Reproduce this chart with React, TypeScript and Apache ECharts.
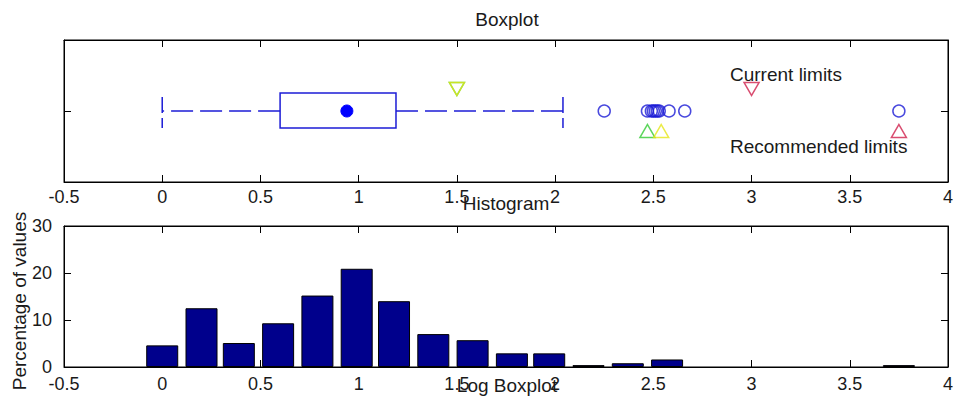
import React, { useEffect, useRef } from 'react';
import * as echarts from 'echarts';

// Boxplot statistics: lower whisker, q1, mean, q3, upper whisker
const boxStats = [0, 0.6, 0.94, 1.19, 2.04];
const outliers = [2.25, 2.47, 2.49, 2.5, 2.51, 2.52, 2.53, 2.58, 2.66, 3.75];
// limit markers (green, yellow, red)
const currentLimits = [1.5, 1.5, 3.0];
const recommendedLimits = [2.47, 2.54, 3.75];
const limitColors = ['#33cc33', '#e6e619', '#d0204c'];
// histogram
const binCenters = [0, 0.2, 0.39, 0.59, 0.79, 0.99, 1.18, 1.38, 1.58, 1.78, 1.97, 2.17, 2.37, 2.57, 2.76, 2.96, 3.16, 3.36, 3.55, 3.75];
const binPercents = [4.6, 12.5, 5.1, 9.3, 15.2, 20.9, 14.0, 7.0, 5.7, 2.9, 2.9, 0.4, 0.8, 1.6, 0, 0, 0, 0, 0, 0.4];

const FONT = '"Liberation Sans", Arial, sans-serif';
const TXT = '#1a1a1a';
const BLUE = '#1c1cd6';

export default function App() {
  const ref = useRef<HTMLDivElement>(null);
  useEffect(() => {
    document.body.style.margin = '0';
    if (!ref.current) return;
    const chart = echarts.init(ref.current, undefined, { renderer: 'svg' });

    const xCommon = (grid: number, pos: 'top' | 'bottom', showLabel: boolean, margin: number) => ({
      type: 'value',
      gridIndex: grid,
      position: pos,
      min: -0.5,
      max: 4,
      interval: 0.5,
      axisLine: { show: true, onZero: false, lineStyle: { color: '#000', width: 1 } },
      axisTick: { show: true, inside: true, length: 7, lineStyle: { color: '#000', width: 1 } },
      axisLabel: { show: showLabel, fontSize: 18, fontFamily: FONT, color: TXT, margin },
      splitLine: { show: false },
    });
    const yCommon = (grid: number, pos: 'left' | 'right', min: number, max: number, interval: number, showLabel: boolean) => ({
      type: 'value',
      gridIndex: grid,
      position: pos,
      min,
      max,
      interval,
      axisLine: { show: true, onZero: false, lineStyle: { color: '#000', width: 1 } },
      axisTick: { show: true, inside: true, length: 7, lineStyle: { color: '#000', width: 1 } },
      axisLabel: { show: showLabel, fontSize: 18, fontFamily: FONT, color: TXT, margin: 12 },
      splitLine: { show: false },
    });

    const text = (t: string, x: number, y: number, align: string, rotation = 0) => ({
      type: 'text',
      x,
      y,
      rotation,
      style: { text: t, fontSize: 19, fontFamily: FONT, fill: TXT, align, verticalAlign: 'middle' },
    });

    const option: any = {
      animation: false,
      grid: [
        { left: 64, top: 40, width: 888, height: 142, show: true, borderColor: '#000', borderWidth: 1, backgroundColor: '#fff' },
        { left: 64, top: 226, width: 888, height: 141, show: true, borderColor: '#000', borderWidth: 1, backgroundColor: '#fff' },
      ],
      xAxis: [
        xCommon(0, 'bottom', true, 6),
        xCommon(0, 'top', false, 6),
        xCommon(1, 'bottom', true, 8),
        xCommon(1, 'top', false, 8),
      ],
      yAxis: [
        yCommon(0, 'left', 0, 2, 1, false),
        yCommon(0, 'right', 0, 2, 1, false),
        yCommon(1, 'left', 0, 30, 10, true),
        yCommon(1, 'right', 0, 30, 10, false),
      ],
      graphic: [
        text('Boxplot', 507, 19, 'center'),
        text('Current limits', 730, 74, 'left'),
        text('Recommended limits', 730, 146, 'left'),
        text('Histogram', 506, 203, 'center'),
        text('Log Boxplot', 507, 385, 'center'),
        text('Percentage of values', 19, 301, 'center', Math.PI / 2),
      ],
      series: [
        {
          type: 'custom',
          xAxisIndex: 0,
          yAxisIndex: 0,
          clip: false,
          data: [boxStats],
          renderItem: (params: any, api: any) => {
            const y = api.coord([0, 1])[1];
            const px = (k: number) => api.coord([api.value(k), 1])[0];
            const lo = px(0), q1 = px(1), mean = px(2), q3 = px(3), hi = px(4);
            const dash = [22, 7];
            const capDash = [16, 5];
            const ls = { stroke: BLUE, lineWidth: 1.5, fill: null };
            return {
              type: 'group',
              children: [
                { type: 'line', shape: { x1: q1, y1: y, x2: lo, y2: y }, style: { ...ls, lineDash: dash } },
                { type: 'line', shape: { x1: q3, y1: y, x2: hi, y2: y }, style: { ...ls, lineDash: dash } },
                { type: 'line', shape: { x1: lo, y1: y - 14, x2: lo, y2: y + 17 }, style: { ...ls, lineDash: capDash } },
                { type: 'line', shape: { x1: hi, y1: y - 14, x2: hi, y2: y + 17 }, style: { ...ls, lineDash: capDash } },
                { type: 'rect', shape: { x: q1, y: y - 18, width: q3 - q1, height: 35 }, style: { ...ls, fill: 'none' } },
                { type: 'circle', shape: { cx: mean, cy: y, r: 6 }, style: { fill: '#0000ff', stroke: '#0000ff', lineWidth: 1 } },
              ],
            };
          },
        },
        {
          type: 'scatter',
          xAxisIndex: 0,
          yAxisIndex: 0,
          symbol: 'circle',
          symbolSize: 12,
          itemStyle: { color: 'rgba(0,0,0,0)', borderColor: BLUE, borderWidth: 1.5 },
          data: outliers.map((v) => [v, 1]),
        },
        {
          type: 'scatter',
          xAxisIndex: 0,
          yAxisIndex: 0,
          symbol: 'triangle',
          symbolRotate: 180,
          symbolSize: [15, 13],
          symbolOffset: [0, -22],
          itemStyle: { color: 'rgba(0,0,0,0)', borderWidth: 1.5 },
          data: currentLimits.map((v, i) => ({ value: [v, 1], itemStyle: { borderColor: limitColors[i] } })),
        },
        {
          type: 'scatter',
          xAxisIndex: 0,
          yAxisIndex: 0,
          symbol: 'triangle',
          symbolSize: [15, 13],
          symbolOffset: [0, 20],
          itemStyle: { color: 'rgba(0,0,0,0)', borderWidth: 1.5 },
          data: recommendedLimits.map((v, i) => ({ value: [v, 1], itemStyle: { borderColor: limitColors[i] } })),
        },
        {
          type: 'bar',
          xAxisIndex: 2,
          yAxisIndex: 2,
          barWidth: 32,
          itemStyle: { color: '#00008c', borderColor: '#000', borderWidth: 1 },
          data: binCenters.map((c, i) => [c, binPercents[i]]).filter((d) => d[1] > 0),
        },
      ],
    };
    chart.setOption(option);
    return () => chart.dispose();
  }, []);
  return <div ref={ref} style={{ width: 956, height: 400 }} />;
}
